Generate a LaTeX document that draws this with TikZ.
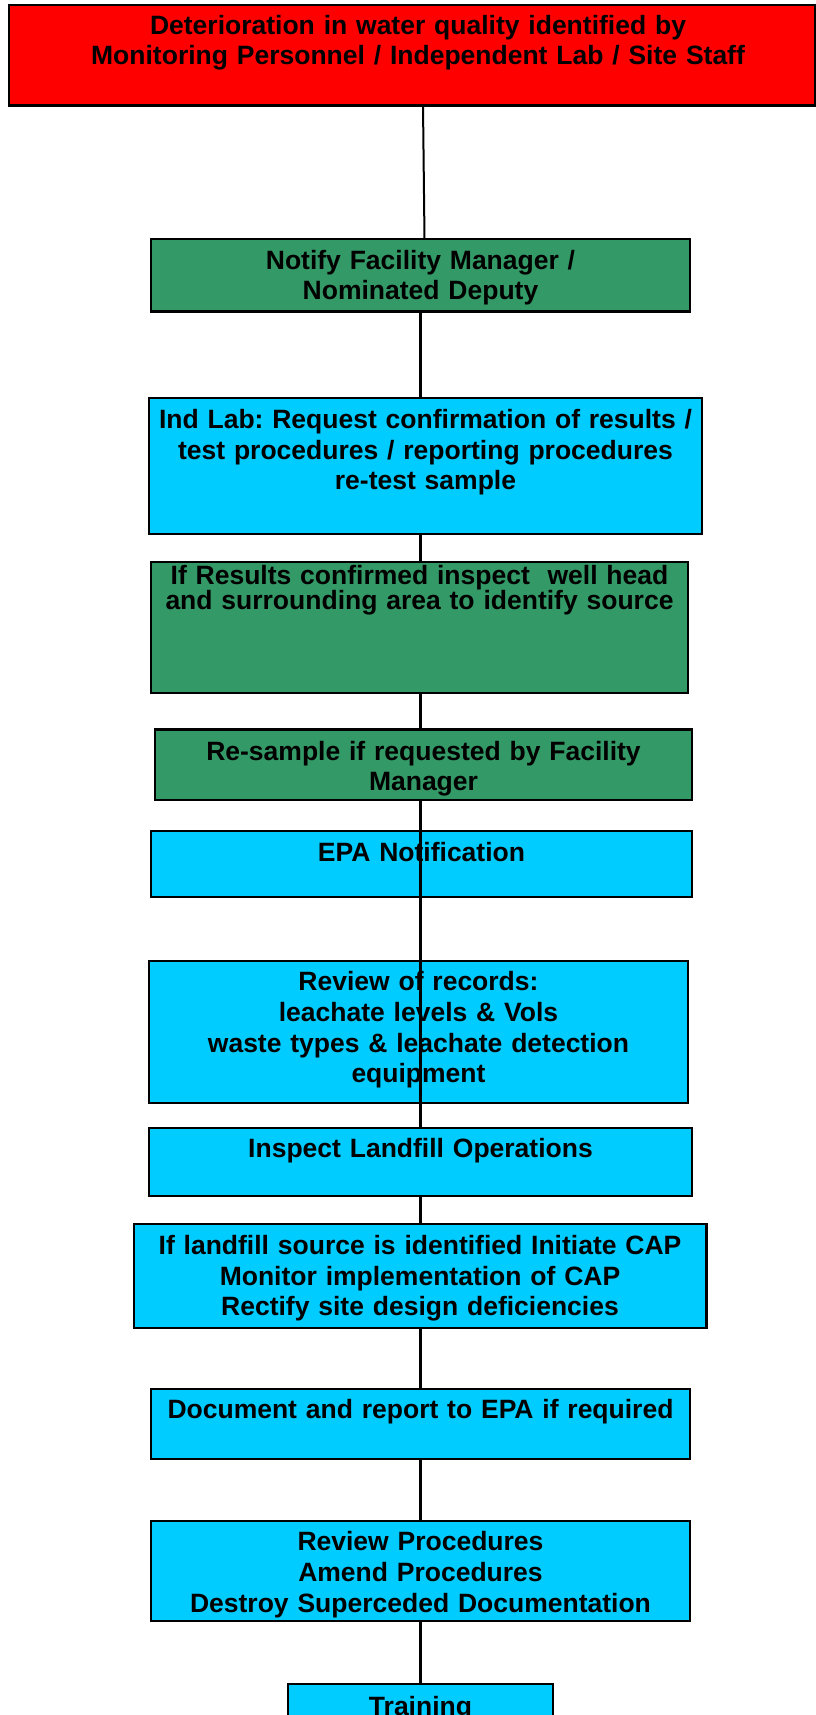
\documentclass[tikz,border=0pt]{standalone}
\usepackage{fontspec}
\setmainfont{Liberation Sans}
\usetikzlibrary{calc}
\definecolor{boxred}{RGB}{255,0,0}
\definecolor{boxgreen}{RGB}{51,153,102}
\definecolor{boxcyan}{RGB}{0,204,255}
\frenchspacing
\begin{document}
\begin{tikzpicture}[x=1pt,y=-1pt,
  box/.style={draw=black, line width=2.4pt, rectangle, inner sep=0pt, outer sep=0pt, anchor=north west},
  redbox/.style={box, fill=boxred},
  greenbox/.style={box, fill=boxgreen},
  cyanbox/.style={box, fill=boxcyan},
  txt/.style={anchor=base, inner sep=0pt, text width=700pt, align=center, font=\bfseries\fontsize{26.5}{30.5}\selectfont},
  conn/.style={draw=black, line width=3pt},
  thinconn/.style={draw=black, line width=2pt},
]
\clip (0,0) rectangle (816,1715);
\fill[white] (0,0) rectangle (816,1715);
\coordinate (spine) at (420,0);

% boxes
\node[redbox,   minimum width=806pt,   minimum height=100.5pt] (red)      at (9,5) {};
\node[greenbox, minimum width=539pt,   minimum height=72.5pt]  (notify)   at (151,239) {};
\node[cyanbox,  minimum width=553pt,   minimum height=136pt]   (indlab)   at (149,398) {};
\node[greenbox, minimum width=537pt,   minimum height=131pt]   (ifres)    at (151,562) {};
\node[greenbox, minimum width=537pt,   minimum height=70.5pt]  (resample) at (155,729.5) {};
\node[cyanbox,  minimum width=541pt,   minimum height=66pt]    (epa)      at (151,831) {};
\node[cyanbox,  minimum width=539pt,   minimum height=142pt]   (records)  at (149,961) {};
\node[cyanbox,  minimum width=543pt,   minimum height=68pt]    (inspect)  at (149,1128) {};
\node[cyanbox,  minimum width=572.5pt, minimum height=104pt]   (cap)      at (134,1224) {};
\node[cyanbox,  minimum width=539pt,   minimum height=70pt]    (doc)      at (151,1389) {};
\node[cyanbox,  minimum width=539pt,   minimum height=100pt]   (procs)    at (151,1521) {};
\node[cyanbox,  minimum width=265pt,   minimum height=70pt]    (training) at (288,1684) {};

% texts
\node[txt, font=\bfseries\fontsize{26.5}{29.5}\selectfont] (red-t) at (418,35)
  {Deterioration in water quality identified by\\Monitoring Personnel / Independent Lab / Site Staff};
\node[txt, font=\bfseries\fontsize{26.5}{30}\selectfont] (notify-t) at (420.5,269)
  {Notify Facility Manager /\\Nominated Deputy};
\node[txt] (indlab-t) at (425.5,428.5)
  {Ind Lab: Request confirmation of results /\\test procedures / reporting procedures\\re-test sample};
\node[txt, font=\bfseries\fontsize{26.5}{25}\selectfont] (ifres-t) at (419.5,584.3)
  {If Results confirmed inspect\ \ well head\\and surrounding area to identify source};
\node[txt, font=\bfseries\fontsize{26.5}{30}\selectfont] (resample-t) at (423.5,760)
  {Re-sample if requested by Facility\\Manager};
\node[txt] (epa-t) at (421.5,861) {EPA Notification};
\node[txt, font=\bfseries\fontsize{26.5}{30.7}\selectfont] (records-t) at (418.5,990.7)
  {Review of records:\\leachate levels \& Vols\\waste types \& leachate detection\\equipment};
\node[txt] (inspect-t) at (420.5,1157.7) {Inspect Landfill Operations};
\node[txt, font=\bfseries\fontsize{26.5}{30.7}\selectfont] (cap-t) at (420,1254.3)
  {If landfill source is identified Initiate CAP\\Monitor implementation of CAP\\Rectify site design deficiencies};
\node[txt] (doc-t) at (420.5,1418.3) {Document and report to EPA if required};
\node[txt, font=\bfseries\fontsize{26.5}{30.8}\selectfont] (procs-t) at (420.5,1550.7)
  {Review Procedures\\Amend Procedures\\Destroy Superceded Documentation};
\node[txt] (training-t) at (420.5,1715) {Training};

% connectors
\draw[thinconn] ([xshift=11pt]red.south) -- ([xshift=4pt]notify.north);
\draw[conn] (spine |- notify.south) -- (spine |- indlab.north);
\draw[conn] (spine |- indlab.south) -- (spine |- ifres.north);
\draw[conn] (spine |- ifres.south) -- (spine |- resample.north);
\draw[conn] (spine |- resample.south) -- (spine |- inspect.north);
\draw[conn] (spine |- inspect.south) -- (spine |- cap.north);
\draw[conn] (spine |- cap.south) -- (spine |- doc.north);
\draw[conn] (spine |- doc.south) -- (spine |- procs.north);
\draw[conn] (spine |- procs.south) -- (spine |- training.north);
\end{tikzpicture}
\end{document}
